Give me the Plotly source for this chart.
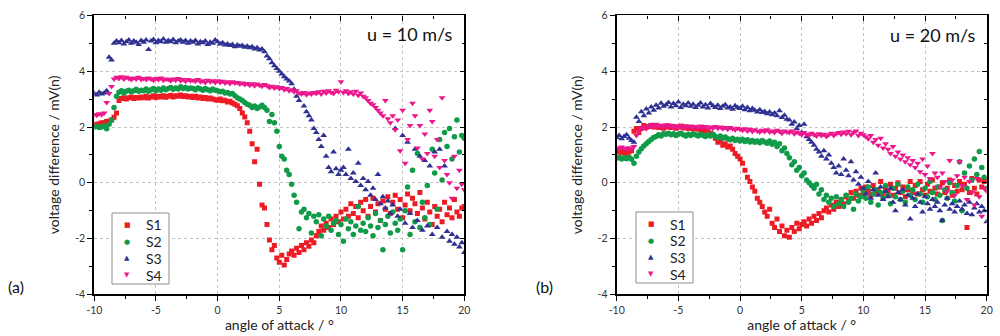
import plotly.graph_objects as go

# Angle of attack sweep (degrees)
ANGLE = [
    -10.0, -9.8, -9.6, -9.4, -9.2, -9.0, -8.8, -8.6, -8.4, -8.2,
    -8.0, -7.8, -7.6, -7.4, -7.2, -7.0, -6.8, -6.6, -6.4, -6.2,
    -6.0, -5.8, -5.6, -5.4, -5.2, -5.0, -4.8, -4.6, -4.4, -4.2,
    -4.0, -3.8, -3.6, -3.4, -3.2, -3.0, -2.8, -2.6, -2.4, -2.2,
    -2.0, -1.8, -1.6, -1.4, -1.2, -1.0, -0.8, -0.6, -0.4, -0.2,
    0.0, 0.2, 0.4, 0.6, 0.8, 1.0, 1.2, 1.4, 1.6, 1.8,
    2.0, 2.2, 2.4, 2.6, 2.8, 3.0, 3.2, 3.4, 3.6, 3.8,
    4.0, 4.2, 4.4, 4.6, 4.8, 5.0, 5.2, 5.4, 5.6, 5.8,
    6.0, 6.2, 6.4, 6.6, 6.8, 7.0, 7.2, 7.4, 7.6, 7.8,
    8.0, 8.2, 8.4, 8.6, 8.8, 9.0, 9.2, 9.4, 9.6, 9.8,
    10.0, 10.2, 10.4, 10.6, 10.8, 11.0, 11.2, 11.4, 11.6, 11.8,
    12.0, 12.2, 12.4, 12.6, 12.8, 13.0, 13.2, 13.4, 13.6, 13.8,
    14.0, 14.2, 14.4, 14.6, 14.8, 15.0, 15.2, 15.4, 15.6, 15.8,
    16.0, 16.2, 16.4, 16.6, 16.8, 17.0, 17.2, 17.4, 17.6, 17.8,
    18.0, 18.2, 18.4, 18.6, 18.8, 19.0, 19.2, 19.4, 19.6, 19.8,
    20.0,
]

# ---- panel (a): u = 10 m/s ----
A_S1 = [
    2.10, 2.08, 2.12, 2.15, 2.14, 2.20, 2.22, 2.25, 2.35, 2.50,
    2.95, 3.02, 3.05, 3.00, 3.05, 3.08, 3.02, 3.06, 3.04, 3.08,
    3.05, 3.10, 3.04, 3.08, 3.12, 3.06, 3.10, 3.08, 3.12, 3.07,
    3.10, 3.14, 3.08, 3.12, 3.10, 3.15, 3.09, 3.12, 3.08, 3.10,
    3.06, 3.10, 3.04, 3.08, 3.02, 3.06, 3.00, 3.04, 3.00, 2.98,
    2.96, 3.00, 2.94, 2.96, 2.90, 2.92, 2.86, 2.82, 2.76, 2.66,
    2.50, 2.36, 2.15, 1.85, 1.40, 0.75, 1.20, -0.05, -0.80, -0.90,
    -1.50, -2.05, -2.40, -2.25, -2.70, -2.85, -2.60, -2.95, -2.75, -2.55,
    -2.45, -2.60, -2.35, -2.50, -2.25, -2.40, -2.15, -2.28, -2.05, -2.15,
    -1.90, -1.75, -1.55, -1.70, -1.45, -1.60, -1.30, -1.50, -1.20, -1.40,
    -1.05, -1.30, -0.95, -1.20, -0.75, -1.10, -0.85, -1.25, -0.70, -1.00,
    -0.60, -1.20, -0.85, -0.55, -1.05, -0.75, -1.35, -0.65, -0.95, -0.50,
    -1.10, -0.70, -0.45, -0.95, -0.60, -1.25, -0.80, -0.40, -1.00, -0.55,
    -0.75, -1.10, -0.35, -0.90, -1.30, -0.70, -1.05, -1.50, -0.85, -1.20,
    -0.95, -1.40, -0.70, -1.15, -0.90, -1.25, -0.60, -1.05, -1.20, -0.90,
    -0.85,
]
A_S2 = [
    2.00, 2.02, 1.98, 2.00, 2.04, 1.94, 2.10, 2.25, 2.70, 3.10,
    3.25, 3.30, 3.22, 3.28, 3.32, 3.26, 3.30, 3.35, 3.28, 3.32,
    3.30, 3.36, 3.28, 3.34, 3.38, 3.30, 3.36, 3.32, 3.40, 3.34,
    3.38, 3.42, 3.35, 3.40, 3.36, 3.44, 3.38, 3.42, 3.36, 3.40,
    3.38, 3.34, 3.40, 3.36, 3.32, 3.38, 3.34, 3.30, 3.36, 3.32,
    3.30, 3.26, 3.28, 3.22, 3.24, 3.18, 3.20, 3.12, 3.05, 3.00,
    2.95, 2.88, 2.82, 2.78, 2.70, 2.75, 2.66, 2.72, 2.78, 2.70,
    2.60, 2.20, 2.45, 2.15, 1.85, 1.30, 0.95, 0.85, 0.45, 0.30,
    -0.05, -0.45, -0.70, -1.65, -1.05, -0.95, -1.25, -1.10, -1.80, -1.20,
    -1.40, -1.15, -1.90, -1.30, -1.55, -1.20, -1.70, -1.45, -1.35, -1.85,
    -1.50, -2.10, -1.30, -1.65, -1.40, -1.85, -1.55, -0.85, -1.70, -1.45,
    -1.75, -1.25, -1.55, -1.90, -1.10, -1.60, -1.35, -2.40, -1.50, -1.20,
    -1.80, -1.05, -1.45, -1.70, -1.30, -2.40, -1.00, -0.15, -1.85, 0.45,
    -1.40, 1.05, -1.60, -0.70, -1.25, -0.10, -1.50, 1.20, 0.35, -0.95,
    1.55, 0.10, 1.80, 1.30, 1.95, 0.85, 1.65, 2.25, 1.10, 1.70,
    1.60,
]
A_S3 = [
    3.20, 3.15, 3.25, 3.18, 3.22, 3.30, 4.50, 4.40, 5.00, 5.08,
    5.02, 5.10, 4.98, 5.06, 5.12, 5.00, 5.08, 5.04, 4.96, 5.10,
    5.04, 5.12, 4.78, 5.08, 5.14, 5.02, 5.10, 5.06, 5.16, 5.04,
    5.10, 5.06, 5.14, 5.02, 5.08, 5.12, 5.04, 5.10, 5.00, 5.08,
    5.04, 5.10, 4.98, 5.06, 5.02, 5.08, 4.96, 5.04, 5.00, 5.12,
    5.06, 4.98, 5.02, 4.94, 4.98, 4.92, 4.96, 4.88, 4.94, 4.90,
    4.92, 4.86, 4.90, 4.84, 4.88, 4.80, 4.84, 4.76, 4.80, 4.70,
    4.55, 4.45, 4.30, 4.20, 4.10, 4.00, 3.90, 3.80, 3.72, 3.65,
    3.55, 3.35, 3.10, 2.95, 3.20, 2.75, 2.55, 2.40, 2.25, 1.95,
    1.80, 1.55, 1.30, 1.70, 0.95, 0.55, 0.40, 1.10, 0.50, 0.30,
    0.45, 0.55, 0.30, 1.20, 0.15, 0.35, 0.05, 0.70, -0.10, 0.15,
    -0.25, 0.05, -0.45, -0.20, -0.60, 0.30, -0.75, -0.50, -0.90, -0.65,
    -1.10, -0.80, 1.95, -1.20, -0.95, 1.70, -1.45, 1.45, -1.10, -1.60,
    1.20, -1.35, 0.95, -1.70, 0.80, -1.55, 0.60, -1.85, 1.10, -1.60,
    1.20, -1.95, 0.60, -1.75, -2.10, -1.85, -2.20, -1.95, -2.30, -2.15,
    -2.50,
]
A_S4 = [
    2.45, 2.42, 2.48, 2.44, 2.50, 2.88, 3.20, 3.45, 3.72, 3.78,
    3.74, 3.80, 3.72, 3.78, 3.74, 3.70, 3.76, 3.72, 3.78, 3.70,
    3.74, 3.70, 3.76, 3.72, 3.68, 3.74, 3.70, 3.76, 3.68, 3.72,
    3.70, 3.66, 3.72, 3.68, 3.74, 3.66, 3.70, 3.64, 3.70, 3.66,
    3.68, 3.64, 3.70, 3.62, 3.66, 3.60, 3.68, 3.62, 3.66, 3.60,
    3.66, 3.60, 3.64, 3.58, 3.62, 3.56, 3.62, 3.58, 3.60, 3.54,
    3.58, 3.52, 3.56, 3.50, 3.55, 3.48, 3.54, 3.50, 3.46, 3.52,
    3.48, 3.42, 3.46, 3.40, 3.44, 3.38, 3.42, 3.34, 3.38, 3.30,
    3.34, 3.26, 3.30, 3.22, 3.18, 3.24, 3.16, 3.22, 3.18, 3.24,
    3.20, 3.26, 3.18, 3.28, 3.22, 3.30, 3.24, 3.20, 3.32, 3.26,
    3.62, 3.24, 3.30, 3.20, 3.26, 3.18, 3.28, 3.14, 3.22, 3.10,
    3.05, 2.95, 2.85, 2.80, 2.70, 2.60, 2.50, 2.40, 2.95, 2.30,
    2.15, 2.40, 1.90, 2.25, 1.15, 2.60, 0.70, 1.55, 2.05, 2.85,
    2.40, 1.25, 2.05, 0.85, 1.75, 1.05, 2.60, 2.20, 0.95, 1.55,
    0.55, 3.05, 0.80, 0.30, 0.00, -0.55, 0.95, -0.20, 0.45, -0.05,
    -0.25,
]

# ---- panel (b): u = 20 m/s ----
B_S1 = [
    1.10, 1.15, 1.08, 1.12, 1.05, 1.10, 1.15, 1.85, 1.95, 1.80,
    1.95, 2.05, 1.98, 2.02, 2.06, 2.00, 2.04, 1.98, 2.02, 1.96,
    2.00, 2.04, 1.98, 2.02, 1.96, 2.00, 2.03, 1.97, 2.01, 1.95,
    1.98, 1.94, 1.96, 1.92, 1.90, 1.88, 1.85, 1.82, 1.78, 1.72,
    1.60, 1.45, 1.52, 1.35, 1.40, 1.28, 1.32, 1.20, 1.05, 0.95,
    0.85, 0.70, 0.45, 0.20, 0.05, -0.15, -0.30, -0.55, -0.70, -0.85,
    -1.05, -1.20, -0.95, -1.45, -1.60, -1.30, -1.75, -1.55, -1.90, -1.70,
    -1.95, -1.60, -1.75, -1.45, -1.65, -1.50, -1.40, -1.55, -1.30, -1.45,
    -1.20, -1.35, -1.10, -1.25, -1.00, -0.90, -1.05, -0.80, -0.95, -0.70,
    -0.85, -0.60, -0.75, -0.50, -0.65, -0.35, -0.55, -0.30, -0.45, -0.20,
    -0.40, -0.15, -0.30, -0.45, -0.10, -0.35, -0.25, 0.05, -0.40, -0.20,
    -0.30, -0.05, -0.45, -0.20, 0.00, -0.35, -0.15, -0.50, -0.25, 0.05,
    -0.35, -0.10, -0.40, 0.05, -0.25, -0.45, -0.05, -0.30, 0.10, -0.20,
    -0.40, -0.15, 0.00, -0.35, -0.20, 0.10, -0.45, -0.10, -0.30, 0.05,
    -0.25, -0.05, -1.60, -0.35, 0.15, -0.20, -0.40, 0.10, -0.15, 0.05,
    0.10,
]
B_S2 = [
    0.88, 0.92, 0.85, 0.90, 0.86, 0.92, 0.84, 0.70, 0.95, 1.10,
    1.22, 1.32, 1.40, 1.48, 1.55, 1.62, 1.66, 1.72, 1.68, 1.76,
    1.74, 1.78, 1.72, 1.76, 1.70, 1.74, 1.78, 1.72, 1.68, 1.74,
    1.70, 1.76, 1.72, 1.68, 1.74, 1.70, 1.66, 1.72, 1.68, 1.74,
    1.66, 1.62, 1.68, 1.60, 1.64, 1.58, 1.54, 1.60, 1.52, 1.56,
    1.50, 1.56, 1.48, 1.54, 1.46, 1.52, 1.45, 1.50, 1.44, 1.52,
    1.46, 1.42, 1.50, 1.38, 1.45, 1.30, 1.40, 1.15, 1.25, 1.05,
    0.90, 0.65, 0.75, 0.45, 0.55, 0.25, 0.35, 0.10, 0.00, -0.10,
    -0.20, -0.05, -0.40, -0.25, -0.60, -0.45, -0.70, -0.55, -0.85, -0.50,
    -0.75, -0.60, -0.85, -0.45, -0.70, -0.55, -0.95, -0.40, -0.65, -0.50,
    -0.30, -0.55, -0.15, -0.70, -0.40, -0.25, -0.80, -0.35, -0.55, -0.10,
    -0.45, -0.75, -0.20, -0.50, -0.05, -0.60, -0.30, -0.70, -0.15, -0.45,
    -0.25, -0.60, -0.05, -0.40, -0.70, -0.20, -0.50, 0.05, -0.35, -0.60,
    -0.15, -0.45, -1.35, -0.25, -0.55, 0.00, -0.35, -0.65, -0.10, 0.75,
    -1.00, 0.35, -0.20, 0.60, 0.10, 0.85, 0.30, 1.12, 0.55, 0.20,
    -0.20,
]
B_S3 = [
    1.62, 1.70, 1.58, 1.66, 1.72, 1.60, 1.52, 1.45, 2.35, 2.20,
    2.55, 2.40, 2.65, 2.50, 2.72, 2.60, 2.78, 2.68, 2.85, 2.74,
    2.80, 2.88, 2.72, 2.84, 2.76, 2.90, 2.70, 2.82, 2.76, 2.86,
    2.74, 2.82, 2.70, 2.78, 2.86, 2.72, 2.80, 2.68, 2.84, 2.76,
    2.70, 2.78, 2.66, 2.74, 2.80, 2.68, 2.72, 2.64, 2.76, 2.70,
    2.66, 2.74, 2.62, 2.70, 2.58, 2.66, 2.60, 2.54, 2.62, 2.52,
    2.56, 2.48, 2.54, 2.44, 2.50, 2.40, 2.58, 2.34, 2.42, 2.28,
    2.25, 2.10, 2.18, 1.95, 2.05, 1.80, 2.10, 1.65, 1.55, 1.45,
    1.35, 1.20, 1.10, 0.95, 1.15, 0.85, 1.00, 0.70, 0.55, 0.35,
    0.60, 0.30, 0.85, 0.45, 0.25, 0.75, 0.10, 0.40, -0.05, 0.20,
    -0.20, -0.40, 0.05, -0.55, -0.25, 0.35, -0.45, -0.15, -0.60, -0.30,
    -0.50, -0.20, -0.70, -1.00, -0.35, -0.60, -0.25, -0.80, -0.45, -1.30,
    -0.55, -0.85, -0.40, -0.70, -1.05, -0.50, -0.75, -0.95, -0.60, -0.85,
    -0.70, -1.00, -1.35, -0.80, -0.55, -0.95, -0.75, -1.05, -0.85, -0.65,
    -0.95, -0.80, -1.10, -0.70, -1.15, -0.90, -0.75, -1.05, -0.85, -1.00,
    -1.40,
]
B_S4 = [
    1.25, 1.22, 1.28, 1.24, 1.20, 1.26, 1.22, 1.30, 1.70, 1.85,
    1.95, 2.00, 1.94, 2.04, 2.08, 2.00, 2.10, 2.02, 2.06, 1.98,
    2.08, 2.02, 2.06, 1.98, 2.04, 2.00, 2.06, 1.96, 2.02, 2.00,
    2.04, 1.98, 2.02, 1.96, 2.04, 1.98, 2.02, 1.94, 2.00, 1.96,
    2.02, 1.96, 2.00, 1.94, 1.98, 1.92, 1.98, 1.94, 1.90, 1.96,
    1.92, 1.88, 1.94, 1.86, 1.92, 1.84, 1.90, 1.86, 1.82, 1.88,
    1.84, 1.90, 1.82, 1.86, 1.80, 1.88, 1.84, 1.78, 1.86, 1.82,
    1.80, 1.86, 1.76, 1.82, 1.78, 1.72, 1.80, 1.74, 1.70, 1.78,
    1.72, 1.68, 1.76, 1.70, 1.74, 1.66, 1.72, 1.78, 1.70, 1.76,
    1.80, 1.74, 1.82, 1.76, 1.85, 1.72, 1.80, 1.86, 1.70, 1.78,
    1.72, 1.65, 1.58, 1.70, 1.45, 1.55, 1.35, 1.60, 1.25, 1.40,
    1.20, 1.05, 1.30, 0.95, 1.10, 0.85, 1.00, 0.75, 0.90, 0.65,
    0.80, 0.55, 0.70, 0.40, 0.85, 0.30, 0.60, 0.15, 1.05, 0.35,
    0.20, -0.15, 0.35, 0.05, -0.30, 0.80, 0.10, -0.45, 0.25, 0.75,
    -0.10, 0.20, -0.60, 0.05, -0.35, -0.80, 0.15, -0.50, -1.20, -0.20,
    -0.30,
]

SERIES = ["S1", "S2", "S3", "S4"]
X_TICKS = [-10, -5, 0, 5, 10, 15, 20]
X_MINOR = [-7.5, -2.5, 2.5, 7.5, 12.5, 17.5]
Y_TICKS = [-4, -2, 0, 2, 4, 6]
Y_MINOR = [-3, -1, 1, 3, 5]
PANEL_TITLES = ["u = 10 m/s", "u = 20 m/s"]
PANEL_LABELS = ["(a)", "(b)"]

COLORS = {"S1": "#ED1C24", "S2": "#109B48", "S3": "#2E3192", "S4": "#EC178C"}
SYMBOLS = {"S1": "square", "S2": "circle", "S3": "triangle-up", "S4": "triangle-down"}
GLYPHS = {"S1": "■", "S2": "●", "S3": "▲", "S4": "▼"}
SIZES = {"S1": 5, "S2": 5.5, "S3": 6, "S4": 6}
FONT = "Lato"
W, H = 1000, 336

fig = go.Figure()
panels = [
    (dict(S1=A_S1, S2=A_S2, S3=A_S3, S4=A_S4), "x", "y"),
    (dict(S1=B_S1, S2=B_S2, S3=B_S3, S4=B_S4), "x2", "y2"),
]
for data, xa, ya in panels:
    for s in SERIES:
        assert len(data[s]) == len(ANGLE)
        fig.add_trace(go.Scatter(
            x=ANGLE, y=data[s], mode="markers", name=s, showlegend=False,
            marker=dict(symbol=SYMBOLS[s], color=COLORS[s], size=SIZES[s], line=dict(width=0)),
            xaxis=xa, yaxis=ya,
        ))
# empty traces so the mirrored (inner-tick) frame axes are drawn
fig.add_trace(go.Scatter(x=[None], y=[None], xaxis="x3", yaxis="y3", showlegend=False, hoverinfo="skip"))
fig.add_trace(go.Scatter(x=[None], y=[None], xaxis="x4", yaxis="y4", showlegend=False, hoverinfo="skip"))

tickfont = dict(family=FONT, size=10.5, color="#333333")
titlefont = dict(family=FONT, size=14, color="#222222")


def xax(domain, anchor):
    return dict(
        domain=domain, anchor=anchor, range=[-10, 20], automargin=False,
        tickvals=X_TICKS, ticktext=[str(v) for v in X_TICKS],
        ticks="outside", ticklen=5, tickwidth=1.2, tickcolor="black",
        showline=True, linecolor="black", linewidth=2,
        showgrid=True, gridcolor="#c4c4c4", griddash="dot", gridwidth=1,
        zeroline=False, tickfont=tickfont,
        minor=dict(tickvals=X_MINOR, ticks="outside", ticklen=3, tickwidth=1.2,
                   tickcolor="black", showgrid=False),
        title=dict(text="angle of attack / °", font=titlefont, standoff=3),
    )


def yax(domain, anchor):
    return dict(
        domain=domain, anchor=anchor, range=[-4, 6], automargin=False,
        tickvals=Y_TICKS, ticktext=[str(v) for v in Y_TICKS],
        ticks="outside", ticklen=5, tickwidth=1.2, tickcolor="black",
        showline=True, linecolor="black", linewidth=2,
        showgrid=True, gridcolor="#c4c4c4", griddash="dot", gridwidth=1,
        zeroline=False, tickfont=tickfont,
        minor=dict(tickvals=Y_MINOR, ticks="outside", ticklen=3, tickwidth=1.2,
                   tickcolor="black", showgrid=False),
        title=dict(text="voltage difference / mV(n)", font=titlefont, standoff=12),
    )


def top_ax(over, anchor):
    return dict(
        overlaying=over, anchor=anchor, side="top", range=[-10, 20], automargin=False,
        tickvals=X_TICKS, ticks="inside", ticklen=5, tickwidth=1.2, tickcolor="black",
        showticklabels=False, showline=True, linecolor="black", linewidth=1.3,
        showgrid=False, zeroline=False,
        minor=dict(tickvals=X_MINOR, ticks="inside", ticklen=3, tickwidth=1.2, tickcolor="black"),
    )


def right_ax(over, anchor):
    return dict(
        overlaying=over, anchor=anchor, side="right", range=[-4, 6], automargin=False,
        tickvals=Y_TICKS, ticks="inside", ticklen=5, tickwidth=1.2, tickcolor="black",
        showticklabels=False, showline=True, linecolor="black", linewidth=1.6,
        showgrid=False, zeroline=False,
        minor=dict(tickvals=Y_MINOR, ticks="inside", ticklen=3, tickwidth=1.2, tickcolor="black"),
    )


ydom = [0.124, 0.954]

annotations = [
    dict(text=PANEL_TITLES[0], xref="paper", yref="paper", x=0.454, y=0.899,
         xanchor="right", yanchor="middle", showarrow=False,
         font=dict(family=FONT, size=18, color="#111111")),
    dict(text=PANEL_TITLES[1], xref="paper", yref="paper", x=0.977, y=0.896,
         xanchor="right", yanchor="middle", showarrow=False,
         font=dict(family=FONT, size=18, color="#111111")),
    dict(text=PANEL_LABELS[0], xref="paper", yref="paper", x=0.006, y=0.146,
         xanchor="left", yanchor="middle", showarrow=False,
         font=dict(family=FONT, size=16, color="#111111")),
    dict(text=PANEL_LABELS[1], xref="paper", yref="paper", x=0.534, y=0.146,
         xanchor="left", yanchor="middle", showarrow=False,
         font=dict(family=FONT, size=16, color="#111111")),
]
shapes = []

# per-panel key (legend box): left edge, top edge in pixels
LEGEND_BOXES = [(112, 213), (636, 212)]
for bx, by in LEGEND_BOXES:
    shapes.append(dict(type="rect", xref="paper", yref="paper",
                       x0=bx / W, x1=(bx + 57) / W, y0=1 - (by + 71) / H, y1=1 - by / H,
                       line=dict(color="#8c8c8c", width=1), fillcolor="white", layer="above"))
    for k, s in enumerate(SERIES):
        cy = by + 12 + k * 16.7
        annotations.append(dict(text=GLYPHS[s], xref="paper", yref="paper",
                                x=(bx + 15) / W, y=1 - cy / H, xanchor="center", yanchor="middle",
                                showarrow=False, font=dict(family="DejaVu Sans", size=7, color=COLORS[s])))
        annotations.append(dict(text=s, xref="paper", yref="paper",
                                x=(bx + 32) / W, y=1 - cy / H, xanchor="left", yanchor="middle",
                                showarrow=False, font=dict(family=FONT, size=14, color="#222222")))

fig.update_layout(
    width=W, height=H, margin=dict(l=0, r=0, t=0, b=0, autoexpand=False),
    paper_bgcolor="white", plot_bgcolor="white",
    font=dict(family=FONT, color="#222222"),
    xaxis=xax([0.0943, 0.4643], "y"),
    yaxis=yax(ydom, "x"),
    xaxis2=xax([0.6167, 0.9867], "y2"),
    yaxis2=yax(ydom, "x2"),
    xaxis3=top_ax("x", "y"),
    yaxis3=right_ax("y", "x"),
    xaxis4=top_ax("x2", "y2"),
    yaxis4=right_ax("y2", "x2"),
    annotations=annotations,
    shapes=shapes,
    showlegend=False,
)

# remove the browser's default 8px page margin so the figure sits at the window's corner
fig.write_html("out.html", config={"displayModeBar": False},
               post_script="document.body.style.margin='0px';")
